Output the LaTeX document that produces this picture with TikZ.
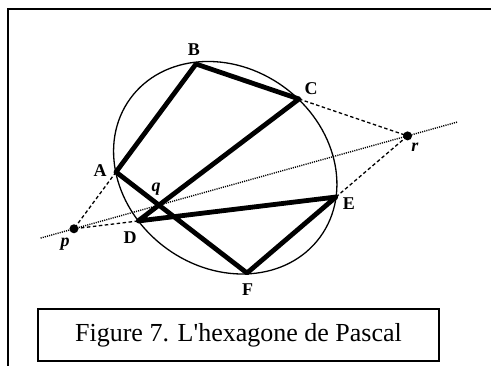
\documentclass[tikz,border=0pt]{standalone}
\usepackage{fontspec}
\setmainfont{Liberation Serif}
\usetikzlibrary{calc}
\begin{document}
\begin{tikzpicture}[x=1pt,y=-1pt,
  hexedge/.style={line width=4.8pt, line join=round},
  rim/.style={line width=1.3pt},
  dashln/.style={line width=1.3pt, dash pattern=on 3.5pt off 2.5pt},
  dotln/.style={line width=1.4pt, dash pattern=on 1.1pt off 1.1pt},
  vlabel/.style={font=\fontsize{18}{18}\selectfont\bfseries, inner sep=0pt},
  plabel/.style={font=\fontsize{18}{18}\selectfont\bfseries\itshape, inner sep=0pt},
  ptdot/.style={circle, fill=black, inner sep=0pt, minimum size=9pt},
  frameln/.style={line width=1.5pt}]
\useasboundingbox (0,0) rectangle (491,365);

% outer frame (cropped)
\coordinate (f1) at (8,366);
\coordinate (f2) at (8,9);
\coordinate (f3) at (492,9);
\draw[frameln] (f1) -- (f2) -- (f3);

% hexagon vertices
\coordinate (A) at (116,172);
\coordinate (B) at (196,64);
\coordinate (C) at (299,99);
\coordinate (D) at (138,221);
\coordinate (E) at (336,197);
\coordinate (F) at (247,273);

% Pascal points
\coordinate (p) at (intersection of A--B and D--E);
\coordinate (r) at (intersection of B--C and E--F);
\coordinate (q) at (intersection of C--D and F--A);
\coordinate (L1) at ($(p)!-0.1!(r)$);
\coordinate (L2) at ($(r)!-0.15!(p)$);

% conic
\coordinate (O) at (225.25,167.75);
\draw[rim, rotate around={-36.1:(O)}] (O) ellipse [x radius=117.5pt, y radius=99.8pt];

% Pascal line
\draw[dotln] (L1) -- (L2);

% extensions
\draw[dashln] (A) -- (p);
\draw[dashln] (D) -- (p);
\draw[dashln] (C) -- (r);
\draw[dashln] (E) -- (r);

% hexagon
\draw[hexedge] (A) -- (B) -- (C) -- (D) -- (E) -- (F) -- cycle;

% points p, r
\node[ptdot] (pdot) at (p) {};
\node[ptdot] (rdot) at (r) {};

% labels
\node[vlabel] (lA) at (100,170.5) {A};
\node[vlabel] (lB) at (194,49.5) {B};
\node[vlabel] (lC) at (311,88.5) {C};
\node[vlabel] (lD) at (130,237.5) {D};
\node[vlabel] (lE) at (349,203.5) {E};
\node[vlabel] (lF) at (247.5,290) {F};
\node[plabel] (lp) at (65,244) {p};
\node[plabel] (lq) at (156,189) {q};
\node[plabel] (lr) at (415,147.5) {r};

% caption
\node[draw, line width=1.8pt, minimum width=401pt, minimum height=52pt, inner sep=0pt,
  font=\fontsize{26}{26}\selectfont] (cap) at (238.5,335)
  {Figure 7. L\textquotesingle hexagone de Pascal};
\end{tikzpicture}
\end{document}
